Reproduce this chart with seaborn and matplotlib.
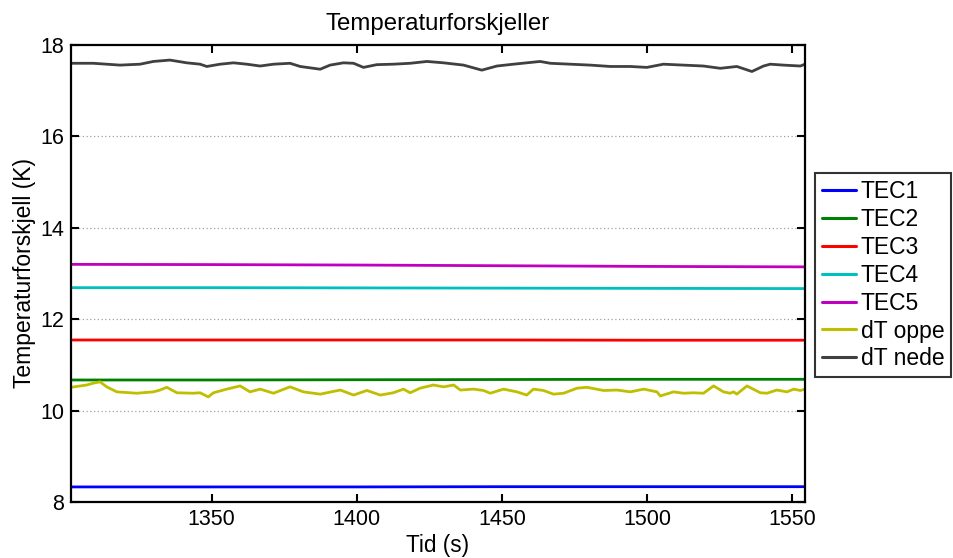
import numpy as np
import pandas as pd
import matplotlib
matplotlib.use("Agg")
import matplotlib.pyplot as plt
import seaborn as sns
from matplotlib.lines import Line2D

# ---- data ----
labels = ["TEC1", "TEC2", "TEC3", "TEC4", "TEC5", "dT oppe", "dT nede"]

t_flat = [1301.5, 1350, 1400, 1450, 1500, 1554.5]
tec1 = [8.33, 8.33, 8.33, 8.335, 8.335, 8.335]
tec2 = [10.67, 10.67, 10.675, 10.68, 10.685, 10.685]
tec3 = [11.545, 11.545, 11.545, 11.545, 11.54, 11.54]
tec4 = [12.69, 12.69, 12.685, 12.68, 12.675, 12.67]
tec5 = [13.20, 13.195, 13.185, 13.17, 13.155, 13.145]

t_oppe = [1301.5, 1306.9, 1309.2, 1311.5, 1313.8, 1317.3, 1324.2, 1329.9, 1332.2,
          1334.5, 1338.0, 1343.7, 1346.0, 1348.8, 1350.6, 1355.2, 1359.8, 1363.2,
          1366.7, 1371.3, 1377.0, 1381.6, 1387.4, 1389.7, 1394.3, 1398.9, 1403.5,
          1408.1, 1412.6, 1416.1, 1418.4, 1421.8, 1426.4, 1429.9, 1433.4, 1435.7,
          1440.3, 1443.7, 1446.0, 1450.6, 1455.2, 1458.6, 1460.9, 1464.4, 1467.8,
          1471.3, 1475.9, 1479.3, 1485.1, 1489.7, 1494.3, 1498.9, 1503.5, 1504.6,
          1509.2, 1512.6, 1516.1, 1519.5, 1523.0, 1526.4, 1528.7, 1529.9, 1531.0,
          1534.5, 1539.1, 1541.4, 1544.8, 1548.3, 1550.6, 1552.9, 1554.5]
v_oppe = [10.51, 10.56, 10.60, 10.63, 10.52, 10.41, 10.38, 10.41, 10.45,
          10.51, 10.39, 10.38, 10.39, 10.30, 10.39, 10.47, 10.54, 10.41,
          10.47, 10.38, 10.52, 10.41, 10.36, 10.39, 10.45, 10.34, 10.44,
          10.34, 10.39, 10.47, 10.39, 10.49, 10.56, 10.52, 10.56, 10.45,
          10.47, 10.44, 10.38, 10.47, 10.41, 10.34, 10.47, 10.44, 10.36,
          10.38, 10.49, 10.51, 10.44, 10.45, 10.41, 10.47, 10.41, 10.32,
          10.41, 10.38, 10.39, 10.38, 10.54, 10.41, 10.38, 10.41, 10.36,
          10.54, 10.39, 10.38, 10.45, 10.41, 10.47, 10.44, 10.47]

t_nede = [1301.5, 1309.2, 1318.4, 1325.3, 1329.9, 1335.6, 1341.4, 1346.0, 1348.3,
          1352.9, 1357.5, 1362.1, 1366.7, 1371.3, 1377.0, 1380.5, 1387.4, 1390.8,
          1395.4, 1398.9, 1402.3, 1406.9, 1412.6, 1418.4, 1424.2, 1429.9, 1436.8,
          1443.1, 1448.3, 1454.0, 1458.6, 1463.2, 1466.7, 1473.6, 1480.5, 1487.4,
          1494.3, 1500.0, 1505.7, 1512.6, 1519.5, 1525.3, 1531.0, 1536.2, 1540.2,
          1542.5, 1547.1, 1552.9, 1554.5]
v_nede = [17.60, 17.60, 17.56, 17.58, 17.64, 17.67, 17.61, 17.58, 17.53,
          17.58, 17.61, 17.58, 17.54, 17.58, 17.60, 17.53, 17.47, 17.56,
          17.61, 17.60, 17.51, 17.57, 17.58, 17.60, 17.64, 17.61, 17.56,
          17.45, 17.54, 17.58, 17.61, 17.64, 17.60, 17.58, 17.56, 17.53,
          17.53, 17.51, 17.58, 17.56, 17.54, 17.49, 17.53, 17.42, 17.54,
          17.58, 17.56, 17.54, 17.58]

x_ticks = [1350, 1400, 1450, 1500, 1550]
y_ticks = [8, 10, 12, 14, 16, 18]

colors = ["#0000ff", "#008000", "#ff0000", "#00bfbf", "#bf00bf", "#bfbf00", "#404040"]

# ---- build long-form table ----
series = [(t_flat, tec1), (t_flat, tec2), (t_flat, tec3), (t_flat, tec4),
          (t_flat, tec5), (t_oppe, v_oppe), (t_nede, v_nede)]
frames = []
for lab, (tx, vy) in zip(labels, series):
    frames.append(pd.DataFrame({"t": tx, "v": vy, "serie": lab}))
df = pd.concat(frames, ignore_index=True)

sns.set_theme(style="white")
plt.rcParams["font.family"] = ["Liberation Sans", "DejaVu Sans"]
plt.rcParams["text.color"] = "black"

fig = plt.figure(figsize=(9.54, 5.58), dpi=100)
ax = fig.add_axes([71 / 954, 1 - 502 / 558, (805 - 71) / 954, (502 - 45) / 558])

palette = dict(zip(labels, colors))
sns.lineplot(data=df, x="t", y="v", hue="serie", hue_order=labels, palette=palette,
             estimator=None, sort=False, linewidth=2.0, ax=ax, legend=False)

ax.set_xlim(1301.5, 1554.5)
ax.set_ylim(8, 18)
ax.set_xticks(x_ticks)
ax.set_yticks(y_ticks)
ax.set_xticklabels([str(v) for v in x_ticks])
ax.set_yticklabels([str(v) for v in y_ticks])

for y in y_ticks[1:-1]:
    ax.axhline(y, color="#a0a0a0", linestyle=(0, (1, 2)), linewidth=0.9, zorder=0)

fs = 15.5
ax.tick_params(direction="in", length=6, width=1.5, top=True, right=True,
               labelsize=fs, colors="black", pad=5,
               bottom=True, left=True)
for sp in ax.spines.values():
    sp.set_color("black")
    sp.set_linewidth(1.6)

ax.set_title("Temperaturforskjeller", fontsize=17.3, pad=11, color="black")
ax.set_xlabel("Tid (s)", fontsize=16.3, labelpad=3, color="black")
ax.set_ylabel("Temperaturforskjell (K)", fontsize=16.5, labelpad=3, color="black")

handles = [Line2D([0], [0], color=c, linewidth=2.2) for c in colors]
leg = ax.legend(handles, labels, loc="upper left",
                bbox_to_anchor=(815 / 954, 1 - 173 / 558),
                bbox_transform=fig.transFigure, fontsize=16.5,
                frameon=True, fancybox=False, shadow=False,
                handlelength=1.5, handletextpad=0.2, labelspacing=0.215,
                borderpad=0.3, borderaxespad=0, labelcolor="black")
leg.get_frame().set_edgecolor("black")
leg.get_frame().set_linewidth(1.5)
leg.get_frame().set_facecolor("white")

fig.savefig("out.png", dpi=100, facecolor="white")
